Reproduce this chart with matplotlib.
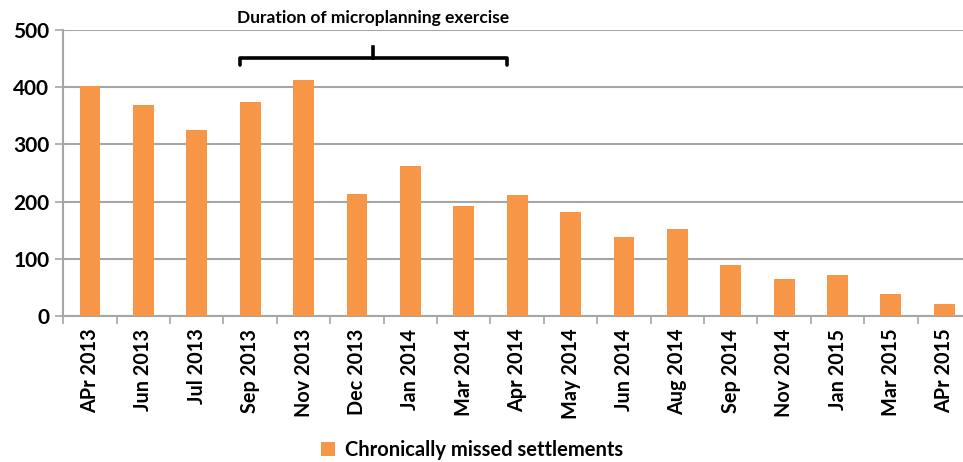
import matplotlib.pyplot as plt
from matplotlib.ticker import FixedLocator

months = ["APr 2013", "Jun 2013", "Jul 2013", "Sep 2013", "Nov 2013", "Dec 2013",
          "Jan 2014", "Mar 2014", "Apr 2014", "May 2014", "Jun 2014", "Aug 2014",
          "Sep 2014", "Nov 2014", "Jan 2015", "Mar 2015", "APr 2015"]
missed = [403, 369, 325, 375, 413, 213, 263, 192, 212, 181, 138, 152, 90, 64, 72, 38, 21]
series_name = "Chronically missed settlements"
bracket_text = "Duration of microplanning exercise"
bracket_from = "Sep 2013"
bracket_to = "Apr 2014"

plt.rcParams['font.family'] = ['Lato', 'DejaVu Sans']
plt.rcParams['font.weight'] = 'bold'

orange = '#F79646'
grid_grey = '#a6a6a6'
bar_w = 0.39

fig = plt.figure(figsize=(9.63, 4.62), dpi=100)
ax = fig.add_axes([0.0657, 0.316, 0.9426, 0.619])

x = list(range(len(months)))
ax.bar(x, missed, width=bar_w, color=orange, zorder=3, label=series_name)

ax.set_xlim(-0.5, len(months) - 0.5)
ax.set_ylim(0, 500)
ax.set_yticks([0, 100, 200, 300, 400, 500])
ax.yaxis.grid(True, color=grid_grey, linewidth=1.5, zorder=0)
ax.tick_params(axis='y', labelsize=15, length=6, color=grid_grey, width=1.2, pad=4)

ax.set_xticks(x)
ax.set_xticklabels(months, rotation=90, fontsize=14.3, fontweight='bold')
ax.xaxis.set_minor_locator(FixedLocator([i - 0.5 for i in range(len(months) + 1)]))
ax.tick_params(axis='x', which='major', length=0, pad=9)
ax.tick_params(axis='x', which='minor', length=6, color=grid_grey, width=1.2)

for s in ['top', 'right']:
    ax.spines[s].set_visible(False)
for s in ['left', 'bottom']:
    ax.spines[s].set_color(grid_grey)
    ax.spines[s].set_linewidth(1.5)

# bracket over the microplanning period
x0 = months.index(bracket_from) - bar_w / 2
x1 = months.index(bracket_to) - bar_w / 2
xm = (x0 + x1) / 2
ax.plot([x0, x0, x1, x1], [439, 451, 451, 439], color='black', lw=2.6,
        clip_on=False, solid_capstyle='round', solid_joinstyle='round')
ax.plot([xm, xm], [451, 470], color='black', lw=2.6, clip_on=False)
ax.text(xm, 521, bracket_text, ha='center', va='center', fontsize=12.5,
        fontweight='bold', clip_on=False)

fig.legend(loc='center', bbox_to_anchor=(0.49, 0.025), frameon=False,
           fontsize=14.5, handlelength=0.7, handleheight=0.7, handletextpad=0.5)

fig.savefig('out.png', dpi=100)
